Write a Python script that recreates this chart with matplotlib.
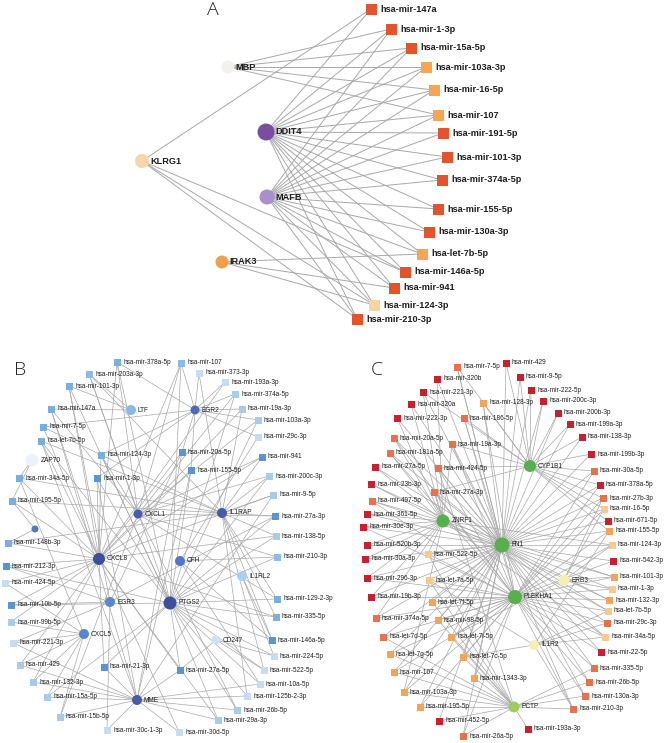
import matplotlib.pyplot as plt
from matplotlib.collections import LineCollection

plt.rcParams['font.family'] = ['Liberation Sans', 'DejaVu Sans']

# ---------------- Panel A ----------------
a_genes = ['MBP', 'DDIT4', 'KLRG1', 'MAFB', 'IRAK3']
a_mirs = ['hsa-mir-147a', 'hsa-mir-1-3p', 'hsa-mir-15a-5p', 'hsa-mir-103a-3p',
          'hsa-mir-16-5p', 'hsa-mir-107', 'hsa-mir-191-5p', 'hsa-mir-101-3p',
          'hsa-mir-374a-5p', 'hsa-mir-155-5p', 'hsa-mir-130a-3p', 'hsa-let-7b-5p',
          'hsa-mir-146a-5p', 'hsa-mir-941', 'hsa-mir-124-3p', 'hsa-mir-210-3p']
a_mir_shade = [0, 0, 0, 1, 1, 1, 0, 0, 0, 0, 0, 1, 0, 0, 2, 0]
a_edges = {
    'MBP': ['hsa-mir-1-3p', 'hsa-mir-15a-5p', 'hsa-mir-103a-3p', 'hsa-mir-16-5p', 'hsa-mir-107'],
    'KLRG1': ['hsa-mir-147a', 'hsa-mir-146a-5p', 'hsa-mir-124-3p', 'hsa-mir-210-3p'],
    'DDIT4': a_mirs,
    'MAFB': a_mirs[1:],
    'IRAK3': ['hsa-let-7b-5p', 'hsa-mir-941', 'hsa-mir-124-3p'],
}

# ---------------- Panel B ----------------
b_genes = ['LTF', 'EGR2', 'ZAP70', 'CXCL1', 'IL1RAP', '', 'CXCL8', 'CFH',
           'IL1RL2', 'PTGS2', 'EGR3', 'CXCL5', 'CD247', 'MME']
b_mirs = ['hsa-mir-378a-5p', 'hsa-mir-203a-3p', 'hsa-mir-101-3p', 'hsa-mir-147a',
          'hsa-mir-7-5p', 'hsa-let-7b-5p', 'hsa-mir-124-3p', 'hsa-mir-34a-5p',
          'hsa-mir-1-3p', 'hsa-mir-195-5p', 'hsa-mir-107', 'hsa-mir-373-3p',
          'hsa-mir-193a-3p', 'hsa-mir-374a-5p', 'hsa-mir-19a-3p', 'hsa-mir-103a-3p',
          'hsa-mir-29c-3p', 'hsa-mir-20a-5p', 'hsa-mir-941', 'hsa-mir-155-5p',
          'hsa-mir-200c-3p', 'hsa-mir-9-5p', 'hsa-mir-27a-3p', 'hsa-mir-138-5p',
          'hsa-mir-210-3p', 'hsa-mir-148b-3p', 'hsa-mir-212-3p', 'hsa-mir-424-5p',
          'hsa-mir-10b-5p', 'hsa-mir-99b-5p', 'hsa-mir-221-3p', 'hsa-mir-429',
          'hsa-mir-21-3p', 'hsa-mir-132-3p', 'hsa-mir-15a-5p', 'hsa-mir-15b-5p',
          'hsa-mir-30c-1-3p', 'hsa-mir-129-2-3p', 'hsa-mir-335-5p', 'hsa-mir-146a-5p',
          'hsa-mir-224-5p', 'hsa-mir-27a-5p', 'hsa-mir-522-5p', 'hsa-mir-10a-5p',
          'hsa-mir-125b-2-3p', 'hsa-mir-26b-5p', 'hsa-mir-29a-3p', 'hsa-mir-30d-5p']
b_mir_shade = [1, 2, 1, 1, 1, 1, 1, 1, 0, 1, 2, 4, 4, 3, 3, 3, 4, 0, 0, 0,
               3, 3, 0, 3, 2, 1, 0, 4, 0, 3, 4, 3, 0, 3, 3, 3, 4, 1, 1, 0,
               4, 0, 4, 4, 4, 3, 3, 4]
b_targets = [
    ['EGR2', 'CXCL8', 'PTGS2', 'CXCL1'], ['LTF', 'CXCL1', 'IL1RAP', 'PTGS2'],
    ['LTF', 'CXCL8', 'PTGS2', 'EGR3'], ['LTF', 'CXCL8', 'CXCL1', 'MME'],
    ['EGR2', 'CXCL8', 'IL1RAP'], ['CXCL8', 'MME', 'IL1RAP', 'PTGS2'],
    ['CXCL1', 'PTGS2', 'CXCL8', 'EGR2'], ['CXCL8', 'CXCL5', 'IL1RAP', 'ZAP70'],
    ['CXCL8', 'PTGS2', 'MME', 'EGR2'], ['', 'CXCL8', 'IL1RAP', 'ZAP70'],
    ['EGR2', 'CXCL1', 'PTGS2', 'CXCL8'], ['EGR2', 'IL1RAP'],
    ['EGR2', 'CXCL8'], ['EGR2', 'PTGS2', 'CXCL1'],
    ['EGR2', 'IL1RAP', 'CXCL8'], ['EGR2', 'PTGS2', 'CXCL1'],
    ['EGR2', 'CFH'], ['EGR2', 'CXCL8', 'MME', 'EGR3'],
    ['IL1RAP', 'CXCL8', 'CXCL1'], ['CXCL8', 'PTGS2', 'EGR2', 'MME'],
    ['IL1RAP', 'PTGS2', 'CXCL1'], ['IL1RAP', 'MME', 'CXCL8'],
    ['IL1RAP', 'PTGS2', 'CXCL1', 'EGR3'], ['IL1RAP', 'PTGS2', 'CXCL8'],
    ['CFH', 'PTGS2', 'CXCL1'], ['CXCL8', '', 'IL1RAP'],
    ['CXCL8', 'EGR3', 'PTGS2'], ['CXCL8', 'CXCL5'],
    ['EGR3', 'CXCL8', 'PTGS2'], ['CXCL5', 'CXCL8'],
    ['CXCL5', 'MME', 'EGR3'], ['CXCL5', 'CXCL8', 'MME'],
    ['CXCL8', 'PTGS2', 'MME'], ['CXCL8', 'CXCL5', 'MME'],
    ['CXCL5', 'MME', 'PTGS2'], ['CXCL5', 'MME', 'CXCL1'],
    ['MME', 'EGR3'], ['PTGS2', 'IL1RAP', 'CXCL1'],
    ['PTGS2', 'IL1RAP', 'CXCL8'], ['PTGS2', 'IL1RAP', 'CFH', 'IL1RL2'],
    ['PTGS2', 'IL1RL2', 'CD247'], ['PTGS2', 'CXCL8', 'MME', 'CD247'],
    ['CD247', 'PTGS2', 'IL1RAP'], ['MME', 'PTGS2', 'CFH'],
    ['MME', 'PTGS2', 'IL1RAP'], ['MME', 'PTGS2', 'CXCL1'],
    ['MME', 'PTGS2', 'CXCL8'], ['MME', 'CXCL8'],
]

# ---------------- Panel C ----------------
c_genes = ['ZNRF1', 'CYP1B1', 'FN1', 'PLEKHA1', 'ERB3', 'IL1R2', 'PCTP']
c_gene_key = 'ZCFPEIT'
c_mirs = ['hsa-mir-7-5p', 'hsa-mir-320b', 'hsa-mir-221-3p', 'hsa-mir-320a',
          'hsa-mir-128-3p', 'hsa-mir-222-3p', 'hsa-mir-186-5p', 'hsa-mir-20a-5p',
          'hsa-mir-19a-3p', 'hsa-mir-181a-5p', 'hsa-mir-27a-5p', 'hsa-mir-424-5p',
          'hsa-mir-23b-3p', 'hsa-mir-27a-3p', 'hsa-mir-497-5p', 'hsa-mir-361-5p',
          'hsa-mir-30e-3p', 'hsa-mir-520b-3p', 'hsa-mir-522-5p', 'hsa-mir-30a-3p',
          'hsa-mir-296-3p', 'hsa-let-7a-5p', 'hsa-mir-19b-3p', 'hsa-let-7f-5p',
          'hsa-mir-374a-5p', 'hsa-mir-98-5p', 'hsa-let-7d-5p', 'hsa-let-7i-5p',
          'hsa-let-7g-5p', 'hsa-let-7c-5p', 'hsa-mir-107', 'hsa-mir-1343-3p',
          'hsa-mir-103a-3p', 'hsa-mir-195-5p', 'hsa-mir-452-5p', 'hsa-mir-26a-5p',
          'hsa-mir-429', 'hsa-mir-9-5p', 'hsa-mir-222-5p', 'hsa-mir-200c-3p',
          'hsa-mir-200b-3p', 'hsa-mir-199a-3p', 'hsa-mir-138-3p', 'hsa-mir-199b-3p',
          'hsa-mir-30a-5p', 'hsa-mir-378a-5p', 'hsa-mir-27b-3p', 'hsa-mir-16-5p',
          'hsa-mir-671-5p', 'hsa-mir-155-5p', 'hsa-mir-124-3p', 'hsa-mir-542-3p',
          'hsa-mir-101-3p', 'hsa-mir-1-3p', 'hsa-mir-132-3p', 'hsa-let-7b-5p',
          'hsa-mir-29c-3p', 'hsa-mir-34a-5p', 'hsa-mir-22-5p', 'hsa-mir-335-5p',
          'hsa-mir-26b-5p', 'hsa-mir-130a-3p', 'hsa-mir-210-3p', 'hsa-mir-193a-3p']
c_mir_shade = [1, 0, 0, 0, 2, 0, 1, 1, 1, 1, 0, 1, 0, 1, 1, 0,
               0, 0, 3, 0, 0, 3, 0, 2, 1, 2, 1, 2, 2, 2, 2, 2,
               2, 2, 0, 1, 0, 0, 0, 0, 0, 0, 0, 0, 1, 0, 1, 3,
               0, 2, 3, 0, 2, 3, 2, 3, 1, 3, 0, 1, 1, 1, 1, 0]
c_targets = ['CFP', 'ZF', 'ZFC', 'ZF', 'CFP', 'ZF', 'CFP', 'ZFP',
             'ZFCP', 'ZFP', 'ZF', 'FCPT', 'ZF', 'ZFPC', 'ZFP', 'ZF',
             'ZFP', 'ZF', 'ZFPT', 'ZF', 'ZFP', 'FPTI', 'ZFP', 'FPT',
             'ZFP', 'FPT', 'FPT', 'FPTE', 'FPT', 'FPTI', 'FPT', 'FPT',
             'FPTZ', 'FPT', 'FT', 'FPT', 'CF', 'CF', 'CF', 'CF',
             'CF', 'CF', 'CF', 'CF', 'CFP', 'CFP', 'CFPE', 'CFPE',
             'CF', 'CFPI', 'FPEZ', 'FP', 'FPEZ', 'FPE', 'FPZ', 'FPIZ',
             'FPI', 'FPIZ', 'FP', 'FPT', 'FPT', 'FPT', 'FPIT', 'T']

# ---------------- layout (pixel positions in the figure) ----------------
a_gene_xy = [(228, 67), (266, 132), (142, 161), (267, 197), (222, 262)]
a_mir_xy = [(371, 9), (391, 29), (411, 48), (426, 67), (434, 90), (438, 115),
            (443, 133), (447, 157), (442, 180), (438, 209), (429, 232), (422, 254),
            (405, 272), (394, 288), (374, 305), (357, 319)]
b_gene_xy = [(131, 410), (195, 410), (32, 460), (138, 514), (222, 513), (35, 529),
             (99, 559), (180, 561), (242, 576), (170, 603), (110, 602), (84, 634),
             (216, 640), (137, 700)]
b_mir_xy = [(117, 362), (89, 374), (69, 386), (51, 409), (43, 427), (41, 441),
            (101, 455), (19, 478), (97, 478), (12, 501), (181, 363), (199, 373),
            (225, 382), (235, 394), (242, 409), (258, 420), (258, 437), (182, 452),
            (262, 457), (191, 470), (269, 476), (273, 495), (275, 516), (276, 536),
            (277, 557), (8, 543), (6, 566), (5, 583), (11, 605), (11, 622),
            (13, 643), (20, 665), (104, 667), (33, 682), (47, 697), (60, 717),
            (107, 730), (277, 599), (276, 617), (272, 640), (274, 656), (180, 670),
            (264, 670), (260, 684), (247, 696), (237, 710), (218, 720), (179, 732)]
c_gene_xy = [(443, 521), (530, 466), (502, 545), (515, 597), (564, 580),
             (534, 645), (514, 707)]
c_mir_xy = [(457, 367), (437, 379), (423, 392), (411, 404), (483, 403), (397, 418),
            (464, 418), (394, 438), (452, 444), (390, 453), (375, 467), (438, 468),
            (371, 484), (434, 492), (372, 501), (367, 514), (363, 527), (367, 545),
            (428, 554), (365, 559), (367, 578), (429, 580), (371, 597), (432, 602),
            (376, 618), (438, 620), (383, 637), (451, 637), (390, 654), (463, 657),
            (394, 672), (474, 678), (404, 692), (420, 707), (439, 721), (463, 736),
            (506, 363), (520, 377), (531, 390), (543, 401), (558, 413), (570, 424),
            (582, 437), (591, 454), (594, 471), (600, 485), (603, 498), (604, 509),
            (608, 521), (609, 531), (612, 545), (613, 561), (614, 577), (612, 589),
            (609, 600), (608, 611), (607, 623), (605, 637), (601, 652), (594, 668),
            (589, 682), (585, 696), (573, 709), (528, 729)]

# ---------------- styles ----------------
a_gene_colors = ['#f3f1ec', '#7a4d9e', '#f8d6a8', '#a790cc', '#f0a04a']
a_gene_diam = [13, 17, 14, 15, 13]
a_mir_palette = ['#e2542b', '#f5a553', '#f9d3a3']
b_gene_colors = ['#8ab8e6', '#4d6cb8', '#eef2f8', '#4a5ca8', '#4a5aa8', '#5579c0',
                 '#3f4e9c', '#4f78c4', '#a9d0ec', '#3f4e9c', '#5a86cc', '#5a86cc',
                 '#cde1f3', '#4a5aa8']
b_gene_diam = [10, 9, 13, 9, 10, 7, 12, 10, 10, 13, 10, 10, 9, 10]
b_mir_palette = ['#5b95d0', '#79afe0', '#8bbbe6', '#a8cbe8', '#c8dcf0']
c_gene_colors = ['#58b04c', '#58b04c', '#58b04c', '#58b04c', '#f4f0b4', '#f4f0b4', '#9ccc5c']
c_gene_diam = [13, 12, 15, 14, 11, 10, 11]
c_mir_palette = ['#c8202e', '#e8704a', '#f2a55a', '#f8c98a']

EDGE = '#a8a8a8'
fig = plt.figure(figsize=(6.66, 7.43), dpi=100)
ax = fig.add_axes([0, 0, 1, 1])
ax.set_xlim(0, 666)
ax.set_ylim(743, 0)
ax.axis('off')


def pt(px):
    return px * 72 / 100


def draw(gene_names, gene_xy, mir_names, mir_xy, pairs, gene_col, gene_d,
         mir_col, mir_d, fs, lw, goff, moff, weight='normal'):
    gpos = dict(zip(gene_names, gene_xy))
    mpos = dict(zip(mir_names, mir_xy))
    segs = [[gpos[g], mpos[m]] for g, m in pairs]
    ax.add_collection(LineCollection(segs, colors=EDGE, linewidths=lw, zorder=1))
    ax.scatter([p[0] for p in gene_xy], [p[1] for p in gene_xy], marker='o',
               s=[pt(d) ** 2 for d in gene_d], c=gene_col, linewidths=0, zorder=2)
    ax.scatter([p[0] for p in mir_xy], [p[1] for p in mir_xy], marker='s',
               s=pt(mir_d) ** 2, c=mir_col, linewidths=0, zorder=2)
    for name, (x, y), d in zip(gene_names, gene_xy, gene_d):
        ax.text(x + d / 2 + goff, y, name, fontsize=fs, va='center', ha='left',
                color='#1e1e1e', fontweight=weight, zorder=3)
    for name, (x, y) in zip(mir_names, mir_xy):
        ax.text(x + mir_d / 2 + moff, y, name, fontsize=fs, va='center', ha='left',
                color='#1e1e1e', fontweight=weight, zorder=3)


a_pairs = [(g, m) for g in a_genes for m in a_edges[g]]
draw(a_genes, a_gene_xy, a_mirs, a_mir_xy, a_pairs, a_gene_colors, a_gene_diam,
     [a_mir_palette[s] for s in a_mir_shade], 11, 6.6, 0.7, 1, 4, weight='bold')

b_pairs = [(g, m) for m, gs in zip(b_mirs, b_targets) for g in gs]
draw(b_genes, b_gene_xy, b_mirs, b_mir_xy, b_pairs, b_gene_colors, b_gene_diam,
     [b_mir_palette[s] for s in b_mir_shade], 7, 4.7, 0.5, 2, 2.5)

c_pairs = [(c_genes[c_gene_key.index(k)], m) for m, ks in zip(c_mirs, c_targets) for k in ks]
draw(c_genes, c_gene_xy, c_mirs, c_mir_xy, c_pairs, c_gene_colors, c_gene_diam,
     [c_mir_palette[s] for s in c_mir_shade], 7, 4.7, 0.5, 2, 2.5)

for letter, (x, y) in zip(['A', 'B', 'C'], [(213, 10), (20, 370), (377, 370)]):
    ax.text(x, y, letter, fontsize=14, ha='center', va='center', color='#222222',
            family=['Open Sans', 'DejaVu Sans'], fontweight='light')

fig.savefig('out.png', dpi=100)
